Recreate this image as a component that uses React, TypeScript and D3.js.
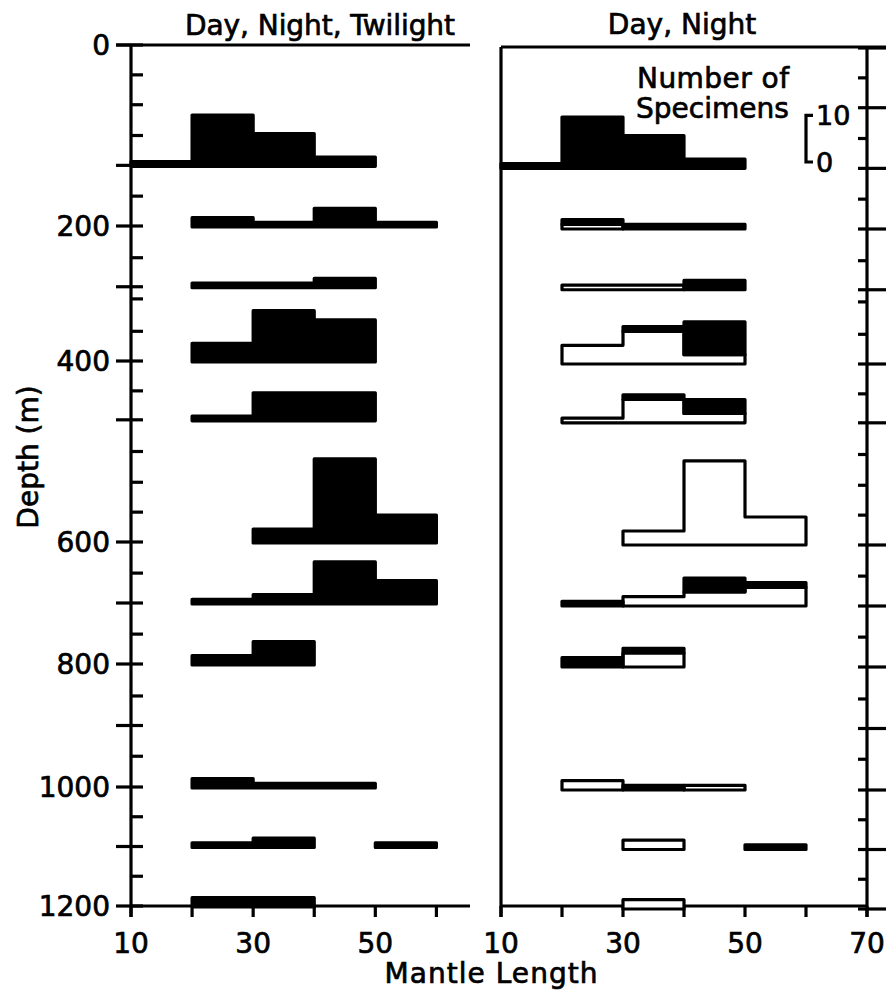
import React from 'react';
import * as d3 from 'd3';

// Mantle-length bins (lower edges, width 10)
const binStarts = [10, 20, 30, 40, 50];
const binWidth = 10;

// Depth of each sampled stratum (m)
const rowDepths = [133, 200, 290, 400, 465, 600, 700, 800, 1000, 1100, 1200];

// Day + night + twilight totals per stratum and bin
const allCounts = [
  [1, 11, 7, 2, 0],
  [0, 2, 1, 4, 1],
  [0, 1, 1, 2, 0],
  [0, 4, 11, 9, 0],
  [0, 1, 6, 6, 0],
  [0, 0, 3, 18, 6],
  [0, 1, 2, 9, 5],
  [0, 2, 5, 0, 0],
  [0, 2, 1, 1, 0],
  [0, 1, 2, 0, 1],
  [0, 2, 2, 0, 0],
];

// Day catches (open) per stratum and bin
const dayCounts = [
  [0, 0, 0, 0, 0],
  [0, 1, 0, 0, 0],
  [0, 1, 1, 0, 0],
  [0, 4, 7, 2, 0],
  [0, 1, 5, 2, 0],
  [0, 0, 3, 18, 6],
  [0, 0, 2, 3, 4],
  [0, 0, 3, 0, 0],
  [0, 2, 0, 1, 0],
  [0, 0, 2, 0, 0],
  [0, 0, 2, 0, 0],
];

// Night catches (filled) stacked above the day catches
const nightCounts = [
  [1, 11, 7, 2, 0],
  [0, 1, 1, 1, 0],
  [0, 0, 0, 2, 0],
  [0, 0, 1, 7, 0],
  [0, 0, 1, 3, 0],
  [0, 0, 0, 0, 0],
  [0, 1, 0, 3, 1],
  [0, 2, 1, 0, 0],
  [0, 0, 1, 0, 0],
  [0, 0, 0, 0, 1],
  [0, 0, 0, 0, 0],
];

const depthLabels = [0, 200, 400, 600, 800, 1000, 1200];
const longTicks = [0, 133, 200, 290, 400, 465, 600, 700, 800, 900, 1000, 1100, 1200];
const shortTicks = [33, 66, 100, 167, 247, 308, 356, 433, 500, 534, 567, 651, 751, 852, 950, 1050, 1150];
const legendTickDepth = 66;

const xTicksLeft = [10, 20, 30, 40, 50, 60];
const xLabelsLeft = [10, 30, 50];
const xTicksRight = [10, 20, 30, 40, 50, 60, 70];
const xLabelsRight = [10, 30, 50, 70];

const legendValues = [0, 10];

const W = 891;
const H = 995;
const FONT = '"DejaVu Sans", sans-serif';
const FS = 28;
const SW = 3.2;

// Depth axis is drawn piecewise between the labelled depths
const y = d3
  .scaleLinear()
  .domain([0, 200, 400, 600, 800, 1000, 1200])
  .range([45, 226, 361, 542, 664, 787, 906]);

const xL = d3.scaleLinear().domain([10, 65.5]).range([131, 470]);
const xR = d3.scaleLinear().domain([10, 70]).range([501, 867]);
const h = d3.scaleLinear().domain([0, 10]).range([0, 46.7]);

function runsOf(counts: number[]): [number, number][] {
  const out: [number, number][] = [];
  let start = -1;
  counts.forEach((c, i) => {
    if (c > 0 && start < 0) start = i;
    if (c <= 0 && start >= 0) {
      out.push([start, i - 1]);
      start = -1;
    }
  });
  if (start >= 0) out.push([start, counts.length - 1]);
  return out;
}

// Step outline for a run of bins between a lower and upper count profile
function stepPaths(
  x: d3.ScaleLinear<number, number>,
  base: number,
  lower: number[],
  amount: number[]
): string[] {
  return runsOf(amount).map(([i0, i1]) => {
    const p = d3.path();
    p.moveTo(x(binStarts[i0]), base - h(lower[i0]));
    for (let i = i0; i <= i1; i++) {
      const t = base - h(lower[i] + amount[i]);
      p.lineTo(x(binStarts[i]), t);
      p.lineTo(x(binStarts[i] + binWidth), t);
    }
    for (let i = i1; i >= i0; i--) {
      const b = base - h(lower[i]);
      p.lineTo(x(binStarts[i] + binWidth), b);
      p.lineTo(x(binStarts[i]), b);
    }
    p.closePath();
    return p.toString();
  });
}

const zeros = binStarts.map(() => 0);

export default function App() {
  const top = y(0);
  const bottom = y(1200);
  const tickDown = 11;

  return (
    <svg
      width={W}
      height={H}
      viewBox={`0 0 ${W} ${H}`}
      style={{ position: 'absolute', left: 0, top: 0, background: '#fff' }}
      fontFamily={FONT}
    >
      <rect width={W} height={H} fill="#fff" />

      <g fill="#000" stroke="#000" strokeWidth={0.7}>
        {/* Titles */}
        <text x={320} y={35} fontSize={FS} textAnchor="middle" textLength={270} lengthAdjust="spacing">
          Day, Night, Twilight
        </text>
        <text x={682} y={34} fontSize={FS} textAnchor="middle">
          Day, Night
        </text>

        {/* Depth labels */}
        {depthLabels.map((d) => (
          <text key={'dl' + d} x={110} y={y(d)} dy="0.36em" fontSize={FS} textAnchor="end">
            {d}
          </text>
        ))}
        <text transform={`translate(38, 457) rotate(-90)`} fontSize={FS} textAnchor="middle">
          Depth (m)
        </text>

        {/* Mantle-length labels */}
        {xLabelsLeft.map((v) => (
          <text key={'xll' + v} x={xL(v)} y={953} fontSize={FS} textAnchor="middle">
            {v}
          </text>
        ))}
        {xLabelsRight.map((v) => (
          <text key={'xrl' + v} x={xR(v)} y={953} fontSize={FS} textAnchor="middle">
            {v}
          </text>
        ))}
        <text x={491} y={983} fontSize={FS} textAnchor="middle" textLength={213} lengthAdjust="spacing">
          Mantle Length
        </text>

        {/* Specimen-count scale caption */}
        <text x={637} y={88} fontSize={FS} textLength={152} lengthAdjust="spacing">
          Number of
        </text>
        <text x={636} y={118} fontSize={FS}>
          Specimens
        </text>
        {legendValues.map((v) => (
          <text key={'lg' + v} x={816} y={162 - h(v)} dy="0.36em" fontSize={FS - 1}>
            {v}
          </text>
        ))}
      </g>

      {/* Left panel axes */}
      <g stroke="#000" strokeWidth={SW} strokeLinecap="butt">
        <line x1={xL(10)} x2={xL(10)} y1={top} y2={bottom + tickDown} />
        <line x1={xL(10) - 15} x2={xL.range()[1]} y1={top} y2={top} />
        <line x1={xL(10)} x2={xL.range()[1]} y1={bottom} y2={bottom} />
        {longTicks.map((d) => (
          <line key={'lt' + d} x1={xL(10) - 15} x2={xL(10) + 12} y1={y(d)} y2={y(d)} />
        ))}
        {shortTicks.map((d) => (
          <line key={'st' + d} x1={xL(10)} x2={xL(10) + 12} y1={y(d)} y2={y(d)} />
        ))}
        {xTicksLeft.map((v) => (
          <line key={'xl' + v} x1={xL(v)} x2={xL(v)} y1={bottom} y2={bottom + tickDown} />
        ))}
      </g>

      {/* Right panel axes */}
      <g stroke="#000" strokeWidth={SW} strokeLinecap="butt">
        <line x1={xR(10)} x2={xR(10)} y1={top + 2} y2={bottom + tickDown} />
        <line x1={xR(70)} x2={xR(70)} y1={top + 2} y2={bottom + tickDown} />
        <line x1={xR(10)} x2={xR(70) + 19} y1={top + 2} y2={top + 2} />
        <line x1={xR(10)} x2={xR(70)} y1={bottom} y2={bottom} />
        {[...longTicks, legendTickDepth].map((d) => (
          <line key={'rl' + d} x1={xR(70) - 9} x2={xR(70) + 19} y1={y(d) + 3} y2={y(d) + 3} />
        ))}
        {shortTicks
          .filter((d) => d !== legendTickDepth)
          .map((d) => (
            <line key={'rs' + d} x1={xR(70) - 9} x2={xR(70)} y1={y(d) + 3} y2={y(d) + 3} />
          ))}
        {xTicksRight.map((v) => (
          <line key={'xr' + v} x1={xR(v)} x2={xR(v)} y1={bottom} y2={bottom + tickDown} />
        ))}
      </g>

      {/* Left panel: all catches */}
      <g fill="#000" stroke="#000" strokeWidth={SW} strokeLinejoin="round">
        {allCounts.map((counts, r) =>
          stepPaths(xL, y(rowDepths[r]) + 1, zeros, counts).map((d, k) => (
            <path key={`a${r}-${k}`} d={d} />
          ))
        )}
      </g>

      {/* Right panel: day (open) with night (filled) stacked on top */}
      <g fill="#fff" stroke="#000" strokeWidth={SW} strokeLinejoin="round">
        {dayCounts.map((counts, r) =>
          stepPaths(xR, y(rowDepths[r]) + 3, zeros, counts).map((d, k) => (
            <path key={`d${r}-${k}`} d={d} />
          ))
        )}
      </g>
      <g fill="#000" stroke="#000" strokeWidth={SW} strokeLinejoin="round">
        {nightCounts.map((counts, r) =>
          stepPaths(xR, y(rowDepths[r]) + 3, dayCounts[r], counts).map((d, k) => (
            <path key={`n${r}-${k}`} d={d} />
          ))
        )}
      </g>

      {/* Specimen-count scale bracket */}
      <g stroke="#000" strokeWidth={SW} fill="none">
        <path
          d={(() => {
            const p = d3.path();
            const b = 162;
            p.moveTo(813, b - h(10));
            p.lineTo(806, b - h(10));
            p.lineTo(806, b);
            p.lineTo(813, b);
            return p.toString();
          })()}
        />
      </g>
    </svg>
  );
}
